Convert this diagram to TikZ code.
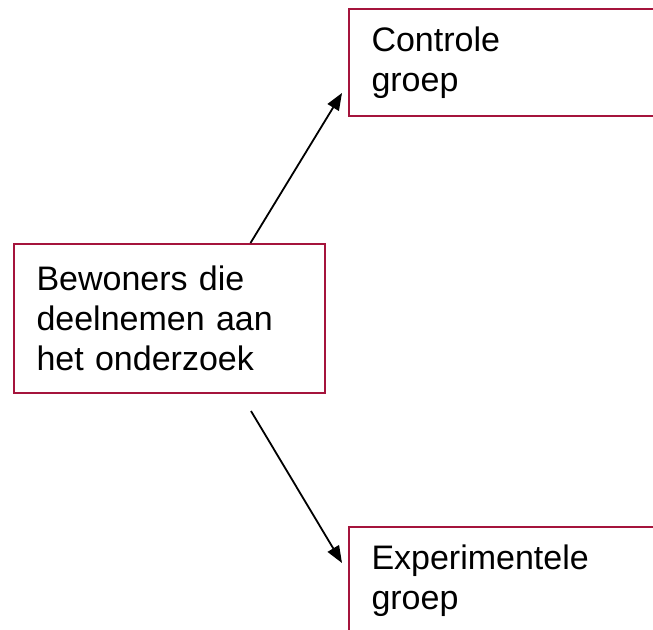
\documentclass[tikz,border=0pt]{standalone}
\usepackage{fontspec}
\setmainfont{Liberation Sans}
\usetikzlibrary{positioning,calc}
\usetikzlibrary{arrows.meta}
\definecolor{bordeaux}{RGB}{165,20,60}
\tikzstyle{blok} = [rectangle, anchor=north west, draw=bordeaux, line width=2pt, inner xsep=23pt, align=left, font=\fontsize{34}{40}\selectfont]
\tikzstyle{arrow} = [line width=1.8pt,-{Triangle[length=17pt,width=13pt]}]

\begin{document}
\begin{tikzpicture}[x=1pt,y=-1pt]
\useasboundingbox (0,0) rectangle (653,629);
\clip (0,0) rectangle (653,629);
\node (bew) at (12.5,243) [blok, text width=265pt, minimum height=149pt] {Bewoners die\\ deelnemen aan\\ het onderzoek};
\node (contr) at (347.5,8) [blok, text width=300pt, minimum height=107pt] {Controle\\ groep};
\node (exp) at (347.5,526) [blok, text width=300pt, minimum height=107pt] {Experimentele\\ groep};

\coordinate (t1) at (342,93);
\coordinate (s2) at (251,411);
\coordinate (t2) at (342,563);

\draw[arrow] ([xshift=238pt]bew.north west) -- (t1);
\draw[arrow] (s2) -- (t2);
\end{tikzpicture}
\end{document}
